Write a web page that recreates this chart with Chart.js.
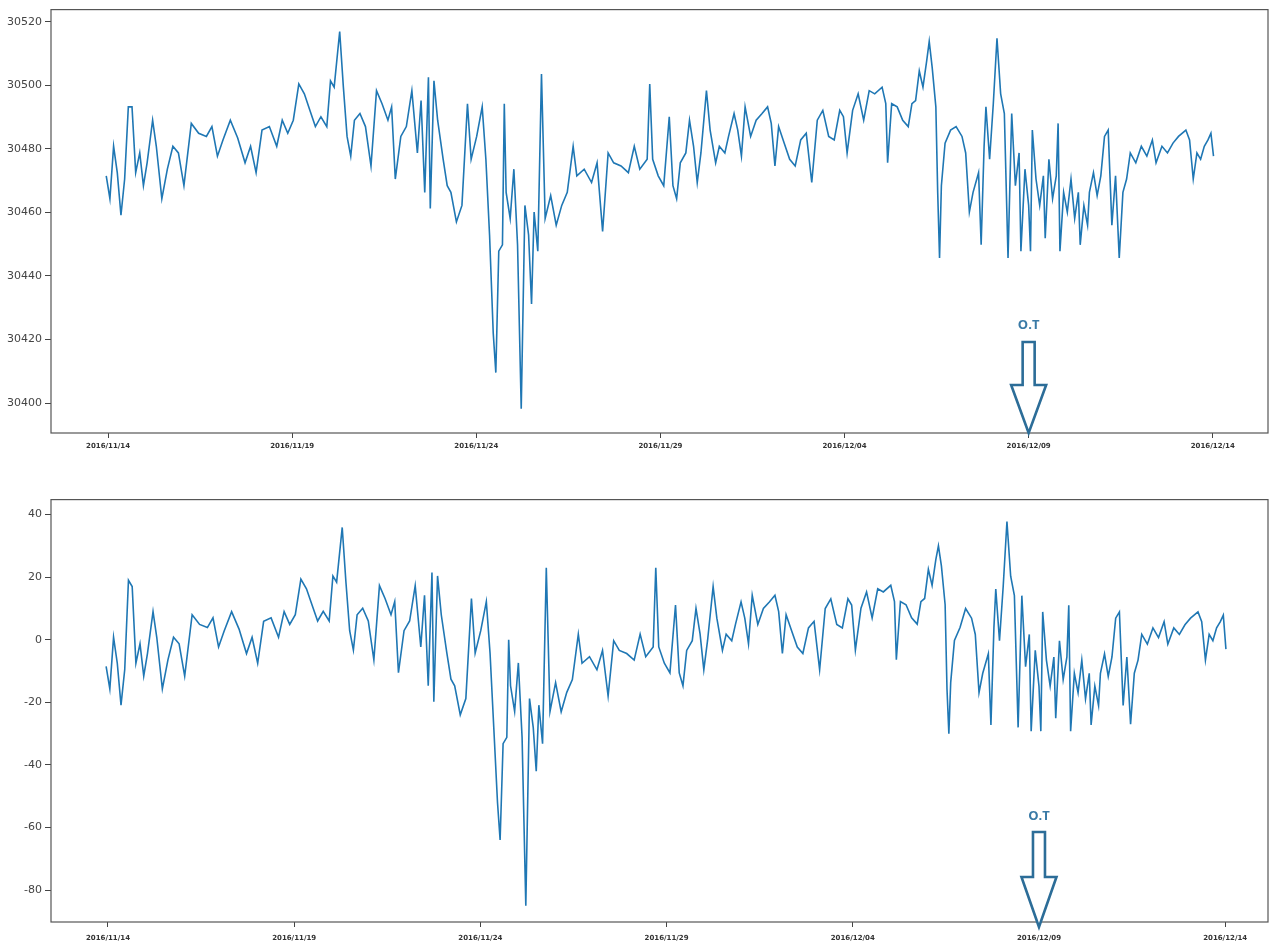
<!DOCTYPE html>
<html><head><meta charset="utf-8">
<script src="https://cdn.jsdelivr.net/npm/chart.js@4.4.0/dist/chart.umd.min.js"></script>
<style>
html,body{margin:0;padding:0;background:#fff;width:1276px;height:941px;overflow:hidden}
#w1{position:absolute;left:0;top:0;width:1276px;height:470px}
#w2{position:absolute;left:0;top:490px;width:1276px;height:451px}
</style></head><body>
<div id="w1"><canvas id="c1"></canvas></div>
<div id="w2"><canvas id="c2"></canvas></div>
<script>
// ---- data ----
const dateLabels = ['2016/11/14','2016/11/19','2016/11/24','2016/11/29','2016/12/04','2016/12/09','2016/12/14'];
const tickDays = [0,5,10,15,20,25,30];
const otDay = 25;
const otLabel = 'O.T';
const rawYTicks = [30400,30420,30440,30460,30480,30500,30520];
const detrendedYTicks = [-80,-60,-40,-20,0,20,40];

// days since 2016/11/14
const days = [
-0.05,0.05,0.15,0.25,0.35,0.45,0.55,0.65,0.75,0.86,
0.96,1.06,1.21,1.31,1.46,1.61,1.76,1.91,2.06,2.26,
2.46,2.67,2.82,2.97,3.12,3.32,3.52,3.72,3.87,4.02,
4.18,4.38,4.58,4.73,4.88,5.03,5.18,5.33,5.48,5.63,
5.78,5.94,6.04,6.14,6.29,6.39,6.49,6.59,6.69,6.84,
6.99,7.14,7.29,7.44,7.60,7.70,7.80,7.95,8.10,8.25,
8.40,8.50,8.60,8.70,8.75,8.85,8.95,9.10,9.21,9.31,
9.46,9.61,9.76,9.86,10.01,10.16,10.26,10.36,10.46,10.53,
10.61,10.71,10.76,10.81,10.92,11.02,11.12,11.22,11.32,11.42,
11.50,11.57,11.67,11.77,11.87,12.02,12.17,12.32,12.47,12.63,
12.73,12.93,13.13,13.28,13.43,13.58,13.73,13.93,14.13,14.29,
14.44,14.64,14.71,14.79,14.94,15.09,15.24,
15.34,15.44,15.54,15.69,15.79,15.90,16.00,16.10,16.25,16.35,
16.50,16.60,16.75,16.85,17.00,17.10,17.20,17.30,17.45,17.60,
17.76,17.91,18.01,18.11,18.21,18.36,18.51,18.66,18.81,18.96,
19.11,19.26,19.41,19.57,19.72,19.87,19.97,20.07,20.22,20.37,
20.52,20.67,20.82,21.02,21.12,21.17,21.28,21.43,21.58,21.73,
21.83,21.93,22.03,22.13,22.23,22.30,22.38,22.48,22.53,22.58,
22.63,22.73,22.88,23.03,23.19,23.29,23.39,23.49,23.64,23.71,
23.79,23.84,23.94,24.04,24.14,24.24,24.34,24.44,24.54,24.64,
24.74,24.79,24.90,25.00,25.05,25.10,25.20,25.30,25.40,25.45,
25.55,25.65,25.75,25.80,25.85,25.95,26.05,26.15,26.25,26.35,
26.40,26.50,26.60,26.65,26.76,26.86,26.96,27.06,27.16,27.26,
27.36,27.46,27.56,27.66,27.76,27.91,28.06,28.21,28.36,28.46,
28.62,28.77,28.92,29.07,29.27,29.37,29.47,29.57,29.67,29.77,
29.87,29.95,30.02
];

const rawValues = [
30471.5,30464.3,30480.8,30472.5,30459.1,30470.5,30493.2,30493.2,30472.5,30478.7,
30468.4,30475.6,30489.0,30480.8,30464.3,30473.6,30480.8,30478.7,30468.4,30488.0,
30484.9,30483.9,30487.0,30477.7,30482.8,30489.0,30483.4,30475.6,30480.8,30472.5,
30485.9,30487.0,30480.8,30489.0,30484.9,30489.0,30500.4,30497.3,30492.1,30487.0,
30490.1,30487.0,30501.4,30499.4,30516.9,30499.4,30483.9,30477.7,30489.0,30491.1,
30487.0,30474.6,30498.3,30494.2,30489.0,30493.2,30470.5,30483.9,30487.0,30498.3,
30478.7,30495.2,30466.3,30502.5,30461.2,30501.4,30489.0,30476.7,30468.4,30466.3,
30457.0,30462.2,30494.2,30476.7,30483.9,30493.2,30476.7,30452.9,30422.0,30409.6,
30447.8,30449.8,30494.2,30466.3,30458.1,30473.6,30449.8,30398.2,30462.2,30452.9,
30431.2,30460.1,30447.8,30503.5,30458.1,30465.3,30456.0,30462.2,30466.3,30480.8,
30471.5,30473.6,30469.4,30475.6,30454.0,30478.7,30475.6,30474.6,30472.5,30480.8,
30473.6,30476.7,30500.4,30476.7,30471.5,30468.4,30490.1,
30468.4,30464.3,30475.6,30478.7,30489.0,30480.8,30469.4,30478.7,30498.3,30485.9,
30475.6,30480.8,30478.7,30483.9,30491.1,30485.9,30477.7,30493.2,30483.9,30489.0,
30491.1,30493.2,30488.0,30474.6,30487.0,30481.8,30476.7,30474.6,30482.8,30484.9,
30469.4,30489.0,30492.1,30483.9,30482.8,30492.1,30490.1,30478.7,30492.1,30497.3,
30489.0,30498.3,30497.3,30499.4,30494.2,30475.6,30494.2,30493.2,30489.0,30487.0,
30494.2,30495.2,30504.5,30499.4,30507.6,30513.8,30505.6,30493.2,30466.3,30445.7,
30468.4,30481.8,30485.9,30487.0,30483.9,30478.7,30460.1,30466.3,30472.5,30449.8,
30480.8,30493.2,30476.7,30494.2,30514.8,30497.3,30491.1,30445.7,30491.1,30468.4,
30478.7,30447.8,30473.6,30462.2,30447.8,30485.9,30470.5,30462.2,30471.5,30451.9,
30476.7,30464.3,30471.5,30488.0,30447.8,30466.3,30460.1,30470.5,30458.1,30466.3,
30449.8,30462.2,30456.0,30466.3,30472.5,30465.3,30471.5,30483.9,30485.9,30456.0,
30471.5,30445.7,30466.3,30470.5,30478.7,30475.6,30480.8,30477.7,30482.8,30475.6,
30480.8,30478.7,30481.8,30483.9,30485.9,30482.8,30470.5,30478.7,30476.7,30480.8,
30482.8,30484.9,30477.7
];

const detrendedValues = [
-8.5,-15.7,0.8,-7.5,-20.9,-9.5,19,17,-7.5,-1.3,
-11.6,-4.4,9.0,0.8,-15.7,-6.4,0.8,-1.3,-11.6,8.0,
4.9,3.9,7.0,-2.3,2.8,9.0,3.4,-4.4,0.8,-7.5,
5.9,7.0,0.8,9.0,4.9,8.0,19.4,16.3,11.1,6.0,
9.1,6.0,20.4,18.4,35.9,18.4,2.9,-3.3,8.0,10.1,
6.0,-6.4,17.3,13.2,8.0,12.2,-10.5,2.9,6.0,17.3,
-2.3,14.2,-14.7,21.5,-19.8,20.4,8.0,-4.3,-12.6,-14.7,
-24.0,-18.8,13.2,-4.3,2.9,12.2,-4.3,-28.1,-52,-64,
-33.2,-31.2,0,-14.7,-22.9,-7.4,-31.2,-85,-18.8,-28.1,
-42,-20.9,-33.2,23,-22.9,-13.7,-23.0,-16.8,-12.7,1.8,
-7.5,-5.4,-9.6,-3.4,-18,-0.3,-3.4,-4.4,-6.5,1.8,
-5.4,-2.3,23,-2.3,-7.5,-10.6,11.1,
-10.6,-14.7,-3.4,-0.3,10.0,1.8,-9.6,-0.3,17,6.9,
-3.4,1.8,-0.3,4.9,12.1,6.9,-1.3,14.2,4.9,10.0,
12.1,14.2,9.0,-4.4,8.0,2.8,-2.3,-4.4,3.8,5.9,
-9.6,10.0,13.1,4.9,3.8,13.1,11.1,-3.3,10.1,15.3,
7.0,16.3,15.3,17.4,12.2,-6.4,12.2,11.2,7.0,5.0,
12.2,13.2,22.5,17.4,25.6,30,23.6,11.2,-15.7,-30,
-13.6,-0.2,3.9,10.0,6.9,1.7,-16.9,-10.7,-4.5,-27.2,
3.8,16.2,-0.3,17.2,37.8,20.3,14.1,-28,14.1,-8.6,
1.7,-29.2,-3.4,-14.8,-29.2,8.9,-6.5,-14.8,-5.5,-25.1,
-0.3,-12.7,-5.5,11.0,-29.2,-10.7,-16.9,-6.5,-18.9,-10.7,
-27.2,-14.8,-21.0,-10.7,-4.5,-11.7,-5.5,6.9,8.9,-21.0,
-5.5,-27,-10.7,-6.5,1.7,-1.4,3.8,0.7,5.8,-1.4,
3.8,1.7,4.8,6.9,8.9,5.8,-6.5,1.7,-0.3,3.8,
5.8,7.9,-3
];

// ---- drawing ----
const LINE = '#1f77b4';
const ARROW = '#2c6d98';

const framePlugin = {
  id: 'frame',
  afterDraw(chart) {
    const a = chart.chartArea, ctx = chart.ctx;
    ctx.save();
    ctx.strokeStyle = '#555';
    ctx.lineWidth = 1.2;
    ctx.strokeRect(a.left, a.top, a.right - a.left, a.bottom - a.top);
    ctx.restore();
  }
};

function arrowPlugin(geom) {
  return {
    id: 'otArrow',
    afterDraw(chart) {
      const ctx = chart.ctx;
      const x = chart.scales.x.getPixelForValue(otDay);
      const b = chart.chartArea.bottom + geom.tipOff;
      ctx.save();
      ctx.beginPath();
      ctx.moveTo(x - 6, b - geom.shaftTop);
      ctx.lineTo(x + 6, b - geom.shaftTop);
      ctx.lineTo(x + 6, b - geom.headTop);
      ctx.lineTo(x + 17.5, b - geom.headTop);
      ctx.lineTo(x, b);
      ctx.lineTo(x - 17.5, b - geom.headTop);
      ctx.lineTo(x - 6, b - geom.headTop);
      ctx.closePath();
      ctx.fillStyle = '#fff';
      ctx.fill();
      ctx.strokeStyle = ARROW;
      ctx.lineWidth = 2.6;
      ctx.lineJoin = 'miter';
      ctx.stroke();
      ctx.fillStyle = '#3a7aa6';
      ctx.font = 'bold 13px "Open Sans", "DejaVu Sans", sans-serif';
      ctx.textAlign = 'center';
      ctx.textBaseline = 'middle';
      ctx.fillText(otLabel, x, b - geom.text);
      ctx.restore();
    }
  };
}

function makeChart(id, values, yTicks, cfg) {
  return new Chart(document.getElementById(id), {
    type: 'line',
    data: {
      datasets: [{
        data: days.map((d, i) => ({ x: d, y: values[i] })),
        borderColor: LINE,
        borderWidth: 1.6,
        pointRadius: 0,
        tension: 0,
        fill: false
      }]
    },
    options: {
      responsive: true,
      maintainAspectRatio: false,
      animation: false,
      events: [],
      layout: { padding: { left: 0, right: 8, top: 8, bottom: 0 } },
      plugins: { legend: { display: false }, tooltip: { enabled: false } },
      scales: {
        x: {
          type: 'linear',
          min: cfg.xMin, max: cfg.xMax,
          afterBuildTicks: s => { s.ticks = tickDays.map(v => ({ value: v })); },
          afterFit: s => { s.height = cfg.xH; },
          ticks: {
            autoSkip: false, maxRotation: 0, minRotation: 0,
            padding: cfg.xPad,
            color: '#333',
            font: { size: 7, weight: 'bold', family: 'DejaVu Sans' },
            callback: v => dateLabels[tickDays.indexOf(v)]
          },
          grid: { display: true, drawOnChartArea: false, drawTicks: true, tickLength: 5, color: '#444' },
          border: { display: false }
        },
        y: {
          type: 'linear',
          min: cfg.yMin, max: cfg.yMax,
          afterBuildTicks: s => { s.ticks = yTicks.map(v => ({ value: v })); },
          afterFit: s => { s.width = 51; },
          ticks: {
            padding: 3,
            color: '#444',
            font: { size: 11, family: 'DejaVu Sans' },
            callback: v => String(v)
          },
          grid: { display: true, drawOnChartArea: false, drawTicks: true, tickLength: 6, color: '#444' },
          border: { display: false }
        }
      }
    },
    plugins: [framePlugin, arrowPlugin(cfg.arrow)]
  });
}

makeChart('c1', rawValues, rawYTicks, {
  xMin: -1.55, xMax: 31.5, xH: 37, xPad: 4,
  yMin: 30390.6, yMax: 30523.8,
  arrow: { tipOff: 0, shaftTop: 91, headTop: 48, text: 108 }
});
makeChart('c2', detrendedValues, detrendedYTicks, {
  xMin: -1.53, xMax: 31.15, xH: 19, xPad: 7,
  yMin: -90.2, yMax: 44.8,
  arrow: { tipOff: 5, shaftTop: 95, headTop: 50, text: 111 }
});
</script>
</body></html>
